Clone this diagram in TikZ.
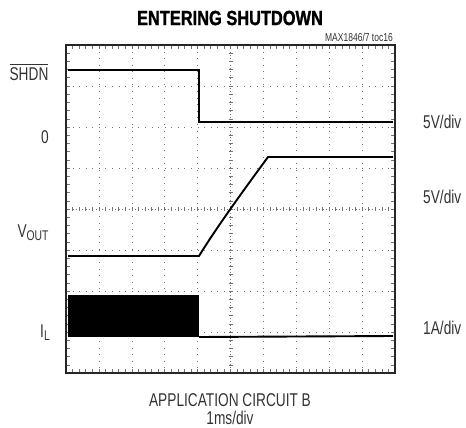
\documentclass[tikz,border=0pt]{standalone}
\usepackage{amsmath}
\usepackage{fontspec}
\setmainfont{Liberation Sans}[FakeStretch=0.74]
\newfontfamily\titlefont{Liberation Sans}[FakeStretch=0.8, BoldFeatures={FakeBold=1.2}]
\usetikzlibrary{positioning}

\tikzset{
	grid line/.style={black!55, line width=0.6pt, dash pattern=on 0.7pt off 5.88pt},
	axis line/.style={black!55, line width=0.6pt, dash pattern=on 0.7pt off 2.59pt},
	tick/.style={black!55, line width=0.6pt},
	trace/.style={black, line width=1.9pt},
	frame/.style={black!85, line width=2.4pt},
	label/.style={text=black!80, font=\fontsize{18.5}{18.5}\selectfont, inner sep=0pt},
}

\begin{document}
\begin{tikzpicture}[x=1pt,y=-1pt]
				\useasboundingbox (0,0) rectangle (466,428);

				%Nodes
				\coordinate      (tl) 	at 	(66,45);
				\coordinate      (br) 	at 	(395,373);
				\coordinate      (s1) 	at 	(68,70);
				\coordinate      (s2) 	at 	(199,70);
				\coordinate      (s3) 	at 	(199,122);
				\coordinate      (s4) 	at 	(393,122);
				\coordinate      (v1) 	at 	(68,256);
				\coordinate      (v2) 	at 	(199,256);
				\coordinate      (v3) 	at 	(268,157);
				\coordinate      (v4) 	at 	(393,157);
				\coordinate      (i1) 	at 	(68,295);
				\coordinate      (i2) 	at 	(199,337);
				\coordinate      (i3) 	at 	(393,336);

				%Grid
				\foreach \i in {1,...,9}
					\draw[grid line] (66+\i*32.9,45) -- (66+\i*32.9,373);
				\foreach \j in {1,...,7}
					\draw[grid line] (66,45+\j*41) -- (395,45+\j*41);
				\draw[axis line] (230.5,45) -- (230.5,373);
				\draw[axis line] (66,209) -- (395,209);
				\foreach \i in {1,...,49} {
					\draw[tick] (66+\i*6.58,207) -- (66+\i*6.58,211);
					\draw[tick] (66+\i*6.58,45) -- (66+\i*6.58,49);
					\draw[tick] (66+\i*6.58,373) -- (66+\i*6.58,369);
				}
				\foreach \j in {1,...,39} {
					\draw[tick] (228.5,45+\j*8.2) -- (232.5,45+\j*8.2);
					\draw[tick] (66,45+\j*8.2) -- (70,45+\j*8.2);
					\draw[tick] (395,45+\j*8.2) -- (391,45+\j*8.2);
				}

				%Lines
				\fill[black] (i1) rectangle (i2);
				\draw[trace] (s1) -- (s2) -- (s3) -- (s4);
				\draw[trace] (v1) -- (v2) .. controls (215,230) and (240,195) .. (v3) -- (v4);
				\draw[trace] (i2) -- (i3);
				\draw[frame] (tl) rectangle (br);

				%Labels
				\node[label, font=\titlefont\fontsize{20.5}{20.5}\selectfont\bfseries, text=black] (title) at (230,18) {ENTERING SHUTDOWN};
				\node[label, font=\fontsize{11.5}{11.5}\selectfont, anchor=south east] (toc) at (393,42) {MAX1846/7 toc16};
				\node[label] (shdn) at (29,72) {$\overline{\hbox{SHDN}}$};
				\node[label] (zero) at (45,137) {0};
				\node[label] (vout) at (33,233) {V\raisebox{-0.3ex}{\fontsize{14}{14}\selectfont OUT}};
				\node[label] (il) at (45,333) {I\raisebox{-0.3ex}{\fontsize{14}{14}\selectfont L}};
				\node[label, anchor=west] (sdiv) at (423,122) {5V/div};
				\node[label, anchor=west] (vdiv) at (423,197) {5V/div};
				\node[label, anchor=west] (idiv) at (423,328) {1A/div};
				\node[label] (circ) at (230,400) {APPLICATION CIRCUIT B};
				\node[label] (tdiv) at (230,418) {1ms/div};

			\end{tikzpicture}
\end{document}
